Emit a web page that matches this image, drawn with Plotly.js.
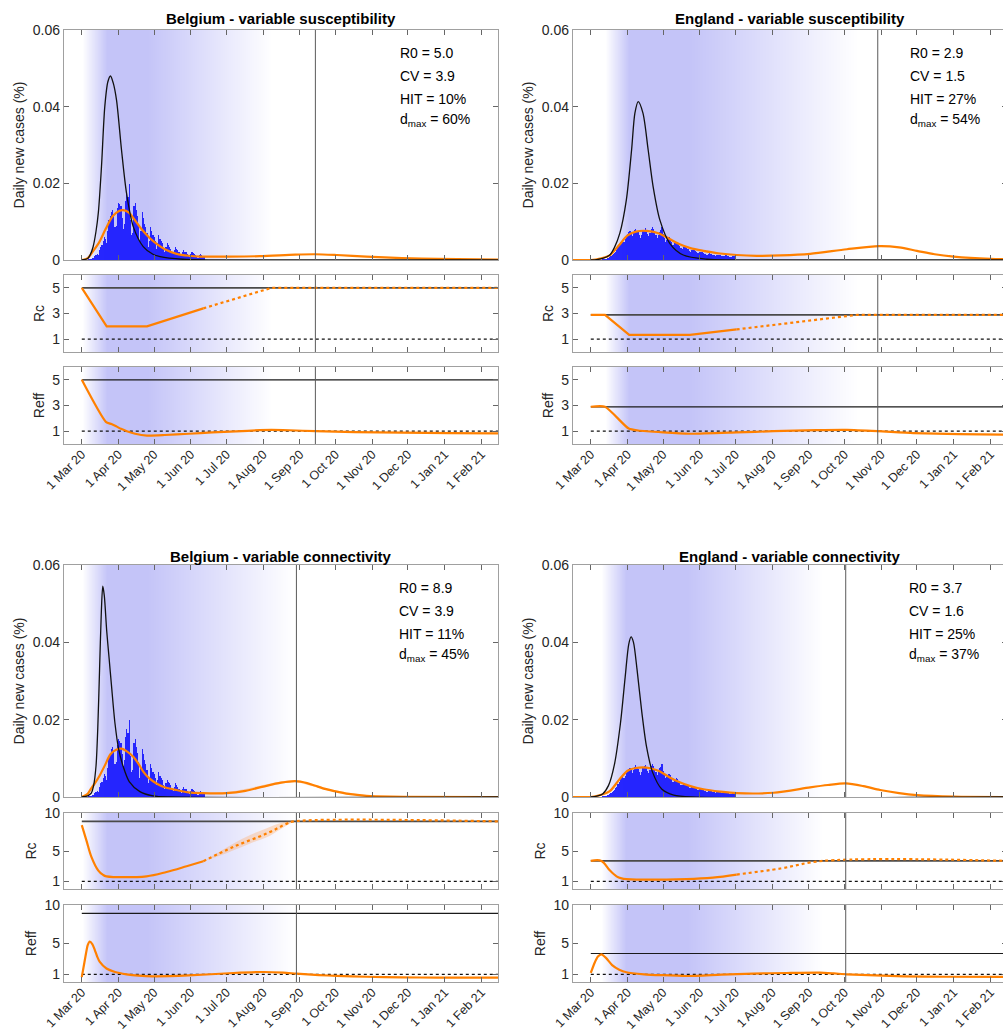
<!DOCTYPE html>
<html>
<head>
<meta charset="utf-8">
<script src="https://cdn.plot.ly/plotly-3.0.1.min.js"></script>
<style>
html,body{margin:0;padding:0;overflow:hidden;background:#fff;}
#chart{width:1008px;height:1035px;}
</style>
</head>
<body>
<div id="chart"></div>
<script>
// ---------------- DATA (x values are days since 1 Mar 2020) ----------------
const monthTickDates = ['2020-03-01','2020-04-01','2020-05-01','2020-06-01','2020-07-01','2020-08-01',
  '2020-09-01','2020-10-01','2020-11-01','2020-12-01','2021-01-01','2021-02-01'];
const monthTickLabels = ['1 Mar 20','1 Apr 20','1 May 20','1 Jun 20','1 Jul 20','1 Aug 20',
  '1 Sep 20','1 Oct 20','1 Nov 20','1 Dec 20','1 Jan 21','1 Feb 21'];

const casesTicks = [0, 0.02, 0.04, 0.06];
const casesTickLabels = ['0', '0.02', '0.04', '0.06'];
const rTicksSmall = [1, 3, 5];
const rTicksLarge = [1, 5, 10];

// Observed daily new cases (%), daily from 1 Mar 2020
const belgiumCases = [
  0, 0, 0.00005, 0.00005, 0.0001, 0.0001, 0.0002, 0.0002, 0.0003, 0.0005,
  0.0006, 0.001, 0.0013, 0.0015, 0.0012, 0.0025, 0.0035,
  0.004, 0.005, 0.006, 0.0055, 0.0045, 0.0075, 0.0105,
  0.0115, 0.0125, 0.013, 0.012, 0.0085, 0.009, 0.0135,
  0.015, 0.0145, 0.014, 0.011, 0.008, 0.0095, 0.0155,
  0.0175, 0.0165, 0.0198, 0.0105, 0.0065, 0.007, 0.014,
  0.015, 0.013, 0.0115, 0.009, 0.005, 0.0075, 0.0125,
  0.011, 0.0095, 0.0085, 0.007, 0.0035, 0.005, 0.0085,
  0.0075, 0.0065, 0.006, 0.005, 0.003, 0.0045, 0.0065,
  0.0055, 0.005, 0.0045, 0.003, 0.002, 0.0035, 0.0045,
  0.004, 0.0035, 0.003, 0.002, 0.0015, 0.0025, 0.0035,
  0.003, 0.0025, 0.002, 0.0015, 0.001, 0.002, 0.0025,
  0.002, 0.002, 0.0015, 0.001, 0.0008, 0.0015, 0.002,
  0.0018, 0.0015, 0.0012, 0.0008, 0.0006, 0.0012, 0.0015, 0.0013, 0.001, 0.0009
];
const englandCases = [
  0, 0, 0, 0, 0, 0.00002, 0.00003,
  0.00005, 0.00008, 0.0001, 0.00015, 0.0002, 0.0003, 0.00035,
  0.0004, 0.0006, 0.0008, 0.001, 0.0013, 0.0016, 0.0018,
  0.0022, 0.0026, 0.0034, 0.004, 0.0046, 0.005, 0.0052,
  0.0048, 0.0055, 0.0062, 0.0068, 0.0072, 0.0075, 0.007,
  0.0062, 0.007, 0.0078, 0.0082, 0.0076, 0.0073, 0.0064,
  0.0058, 0.0064, 0.0075, 0.0079, 0.0083, 0.0076, 0.0068,
  0.0062, 0.007, 0.008, 0.0085, 0.008, 0.0072, 0.0064,
  0.0058, 0.0065, 0.0074, 0.0078, 0.0086, 0.0068, 0.0058,
  0.0048, 0.0052, 0.0058, 0.006, 0.0056, 0.0048, 0.004,
  0.0038, 0.0044, 0.0048, 0.0046, 0.0042, 0.0036, 0.0032,
  0.003, 0.0034, 0.0036, 0.0034, 0.0031, 0.0028, 0.0024,
  0.0022, 0.0025, 0.0027, 0.0026, 0.0024, 0.0021, 0.0019,
  0.0018, 0.002, 0.0021, 0.002, 0.0018, 0.0016, 0.0015,
  0.0014, 0.0016, 0.0017, 0.0016, 0.0015, 0.0013, 0.0012,
  0.0011, 0.0013, 0.0014, 0.0013, 0.0012, 0.0011, 0.001,
  0.001, 0.0011, 0.0012, 0.0011, 0.001, 0.0009, 0.0009,
  0.0009, 0.001, 0.001, 0.0009
];

// Model curves [day, value]
const blSusBlack = [[0,0],[5,0.0004],[7,0.0013],[9.5,0.0034],[12,0.0075],[14,0.0125],[16.6,0.0243],[19.4,0.040],[22,0.0465],[24.2,0.048],[26.5,0.0462],[29.3,0.0417],[33.5,0.0287],[37.7,0.0175],[43.4,0.0087],[51.8,0.0035],[60,0.0015],[66,0.0009],[85,0.0002],[110,0],[351,0]];
const blSusOrange = [[0,0],[5,0.0005],[10,0.0025],[15,0.0048],[20,0.008],[26,0.0114],[31,0.0127],[35,0.013],[40,0.0123],[45,0.0103],[50,0.0082],[57,0.0058],[64,0.004],[70,0.0028],[80,0.0016],[90,0.0011],[100,0.0009],[120,0.0009],[150,0.001],[180,0.0014],[197,0.0015],[215,0.0013],[240,0.0009],[270,0.0005],[300,0.0003],[351,0.0001]];
const enSusBlack = [[0,0],[5,0.0001],[10,0.0004],[16,0.0013],[20,0.0033],[24.5,0.007],[30,0.0157],[34.4,0.0287],[37.2,0.0383],[40,0.0413],[44,0.0383],[48.4,0.0287],[52.6,0.0191],[58.3,0.0104],[66.7,0.0043],[78,0.0013],[98,0.0002],[120,0],[351,0]];
const enSusOrange = [[-15,0],[0,0],[8,0.0004],[16,0.0012],[24,0.0039],[31,0.0064],[38,0.0074],[47,0.0076],[57,0.007],[67,0.0054],[75,0.0041],[84,0.0031],[95,0.0024],[109,0.0017],[123,0.0013],[140,0.0011],[160,0.0012],[185,0.0016],[216,0.0028],[243,0.0036],[260,0.0033],[275,0.0024],[290,0.0015],[306,0.0009],[337,0.0003],[351,0.0002]];
const blConBlack = [[0,0],[5,0.0003],[8,0.001],[10,0.003],[12,0.008],[13.5,0.018],[15,0.033],[16.5,0.048],[17.7,0.0545],[19,0.052],[21,0.043],[23,0.036],[25,0.029],[28,0.019],[31,0.0125],[35,0.0078],[40,0.004],[49,0.0014],[60,0.0003],[75,0],[351,0]];
const blConOrange = [[0,0],[5,0.0008],[7,0.0018],[11,0.0035],[15,0.0055],[20,0.0085],[24,0.011],[29,0.0122],[33.5,0.0125],[38,0.0118],[43.4,0.0104],[48,0.0085],[52,0.0065],[57,0.0048],[63,0.0035],[70,0.0025],[80,0.0018],[90,0.0012],[102,0.001],[122,0.001],[138,0.0016],[153,0.0027],[168,0.0037],[180,0.0041],[190,0.0036],[197,0.0029],[205,0.0021],[212,0.0016],[225,0.0008],[240,0.0003],[260,0.0001],[351,0]];
const blConOrangeBandLow = [[110,0.001],[130,0.0011],[150,0.0023],[168,0.0034],[180,0.0038],[195,0.0027],[212,0.0013],[240,0.0002],[270,0]];
const blConOrangeBandHigh = [[110,0.001],[130,0.0016],[150,0.0029],[168,0.004],[180,0.0044],[195,0.0033],[212,0.0019],[240,0.0005],[270,0.0001]];
const enConBlack = [[0,0],[5,0.0002],[10,0.0008],[15,0.003],[20,0.0085],[25,0.019],[29,0.031],[32,0.0395],[34,0.0414],[36,0.040],[39,0.033],[43,0.022],[47,0.013],[52,0.0065],[60,0.002],[70,0.0005],[85,0],[351,0]];
const enConOrange = [[-15,0],[0,0],[8,0.0005],[16,0.0015],[24,0.0045],[31,0.0068],[38,0.0075],[47,0.0076],[57,0.0068],[67,0.005],[75,0.0038],[84,0.0028],[95,0.002],[109,0.0014],[123,0.001],[154,0.0011],[185,0.0025],[200,0.0031],[215,0.0035],[230,0.0028],[244,0.0018],[260,0.001],[275,0.0005],[306,0.0001],[351,0]];

// Rc (solid = fitted, dotted = projected) and Reff [day, value]
const blSusRc = [[0,5],[21,2],[55,2],[102.5,3.4]];
const blSusRcProj = [[102.5,3.4],[160,5],[351,5]];
const blSusReff = [[0,5],[20.3,1.73],[25,1.55],[29,1.38],[33,1.18],[38,1.0],[45,0.8],[55,0.66],[70,0.7],[90,0.8],[110,0.9],[130,0.98],[150,1.08],[160,1.1],[175,1.07],[197,1.0],[230,0.93],[270,0.88],[310,0.85],[351,0.83]];
const enSusRc = [[0,2.9],[12,2.9],[32.4,1.33],[83.6,1.33],[123,1.76]];
const enSusRcProj = [[123,1.76],[225,2.9],[351,2.9]];
const enSusReff = [[0,2.9],[12,2.9],[32,1.2],[40,1.05],[61,0.9],[84,0.8],[123,0.9],[154,1.0],[190,1.08],[216,1.1],[242,1.0],[272,0.85],[310,0.77],[351,0.72]];
const blConRc = [[0,8.4],[3.9,6.4],[8.2,4.2],[13.8,2.46],[18,1.85],[20.8,1.67],[54.6,1.67],[71.5,2.24],[88.4,3.0],[102.5,3.66]];
const blConRcProj = [[102.5,3.66],[128,5.55],[156,7.3],[173,8.6],[179,8.9],[351,8.9]];
const blConRcBandLow = [[102.5,3.66],[115,4.3],[128,5.1],[142,6.0],[156,6.8],[168,7.9],[179,8.9]];
const blConRcBandHigh = [[102.5,3.66],[115,4.8],[128,6.0],[142,7.1],[156,8.0],[168,8.7],[179,8.9]];
const blConReff = [[0,0.64],[2.5,2.8],[5,4.8],[6.7,5.25],[9,4.9],[11,4.15],[13,3.3],[15.2,2.6],[20.8,1.75],[28,1.3],[37.7,1.0],[48,0.82],[60,0.74],[90,0.85],[128,1.17],[153,1.3],[170,1.22],[181,1.09],[200,0.9],[215,0.8],[240,0.68],[270,0.6],[300,0.58],[351,0.57]];
const enConRc = [[0,3.7],[9,3.7],[16,2.46],[21.7,1.67],[26,1.4],[30,1.31],[80.8,1.31],[103,1.5],[123,1.9]];
const enConRcProj = [[123,1.9],[160,2.7],[196,3.7],[351,3.7]];
const enConReff = [[0,1.17],[3,2.4],[6,3.3],[9,3.6],[13,3.1],[18,2.2],[24,1.6],[30,1.26],[45,1.0],[60,0.88],[81,0.78],[110,0.95],[137,1.09],[165,1.17],[193,1.22],[205,1.12],[216,1.0],[240,0.85],[264,0.74],[300,0.68],[351,0.65]];

// Intervention strength d(t) for the background shading [day, d]
const blSusShade = [[-15,0],[0,0],[21,0.6],[55,0.6],[160,0],[351,0]];
const enSusShade = [[-15,0],[12,0],[32.4,0.54],[83.6,0.54],[225,0],[351,0]];
const blConShade = [[-15,0],[0,0],[21,0.45],[55,0.45],[179,0],[351,0]];
const enConShade = [[-15,0],[9,0],[30,0.37],[81,0.37],[196,0],[351,0]];

const panelTitles = ['Belgium - variable susceptibility','England - variable susceptibility',
  'Belgium - variable connectivity','England - variable connectivity'];
const r0Values = [5.0, 2.9, 8.9, 3.7];
const cvValues = [3.9, 1.5, 3.9, 1.6];
const hitValues = [10, 27, 11, 25];
const dmaxValues = [60, 54, 45, 37];
const vlineDays = [197, 242, 181, 215];
const rAxisMax = [6, 6, 10, 10];

// ---------------- BUILD ----------------
const BASE = Date.UTC(2020, 2, 1);
function toDate(d){ return new Date(BASE + Math.round(d*86400000)).toISOString().slice(0,19).replace('T',' '); }
const X0 = toDate(-15), X1 = toDate(351);
const W = 1008, H = 1035;
const fx = p => p / W;
const fy = p => 1 - p / H;

const ORANGE = 'rgb(255,128,0)';
const BAR = 'rgb(24,24,255)';

const panels = [
  {cases: belgiumCases, black: blSusBlack, orange: blSusOrange, rc: blSusRc, rcp: blSusRcProj, reff: blSusReff, shade: blSusShade},
  {cases: englandCases, black: enSusBlack, orange: enSusOrange, rc: enSusRc, rcp: enSusRcProj, reff: enSusReff, shade: enSusShade},
  {cases: belgiumCases, black: blConBlack, orange: blConOrange, rc: blConRc, rcp: blConRcProj, reff: blConReff, shade: blConShade,
   band: [blConOrangeBandLow, blConOrangeBandHigh], rcBand: [blConRcBandLow, blConRcBandHigh]},
  {cases: englandCases, black: enConBlack, orange: enConOrange, rc: enConRc, rcp: enConRcProj, reff: enConReff, shade: enConShade}
];

const colX = [[64, 498], [573, 1007]];
const rowY = [
  [[30,260],[275,352],[367,444]],
  [[565,797],[813,889],[905,982]]
];
const paramX = [398, 908];
const paramY = [[53,76,99,120],[588,611,634,655]];
const titleY = [19, 556];

const data = [];
const layout = {
  width: W, height: H,
  margin: {l:0, r:0, t:0, b:0},
  showlegend: false,
  paper_bgcolor: '#ffffff',
  plot_bgcolor: '#ffffff',
  font: {family: 'Liberation Sans, Arial, Helvetica, sans-serif', size: 14, color: '#262626'},
  bargap: 0,
  annotations: [],
  shapes: []
};

const xs = pts => pts.map(p => toDate(p[0]));
const ys = pts => pts.map(p => p[1]);

panels.forEach((P, pi) => {
  const col = pi % 2, row = Math.floor(pi / 2);
  const dmax = Math.max(...P.shade.map(p => p[1]));
  for (let s = 0; s < 3; s++) {
    const idx = pi*3 + s + 1;
    const xa = 'x' + idx, ya = 'y' + idx;
    const [t, b] = rowY[row][s];
    const isMain = s === 0;
    const ymax = isMain ? 0.06 : rAxisMax[pi];
    const rt = rAxisMax[pi] === 6 ? rTicksSmall : rTicksLarge;
    const xax = {
      type: 'date', domain: [fx(colX[col][0]), fx(colX[col][1])], anchor: ya,
      range: [X0, X1], tickmode: 'array', tickvals: monthTickDates,
      ticks: 'inside', ticklen: 5, tickcolor: '#666',
      showline: true, mirror: 'ticks', linecolor: '#a0a0a0', linewidth: 1.2,
      showgrid: false, zeroline: false, fixedrange: true
    };
    if (s === 2) {
      xax.ticktext = monthTickLabels;
      xax.showticklabels = true;
      xax.tickangle = -45;
      xax.ticklabelstandoff = -3;
      xax.tickfont = {size: 12.5, color: '#262626'};
    } else {
      xax.showticklabels = false;
    }
    layout['xaxis' + idx] = xax;
    layout['yaxis' + idx] = {
      domain: [fy(b), fy(t)], anchor: xa, range: [0, ymax],
      tickmode: 'array',
      tickvals: isMain ? casesTicks : rt,
      ticktext: isMain ? casesTickLabels : rt.map(String),
      ticks: 'inside', ticklen: 5, tickcolor: '#666',
      showline: true, mirror: 'ticks', linecolor: '#a0a0a0', linewidth: 1.2,
      showgrid: false, zeroline: false, fixedrange: true,
      tickfont: {size: 14, color: '#262626'},
      title: {text: isMain ? 'Daily new cases (%)' : (s === 1 ? 'Rc' : 'Reff'), font: {size: 14, color: '#262626'}, standoff: 4}
    };
    // background shading
    const sz = P.shade.map(p => p[1]);
    data.push({type: 'heatmap', xaxis: xa, yaxis: ya, x: xs(P.shade), y: [-1, 100], z: [sz, sz],
      zmin: 0, zmax: dmax, zsmooth: 'best', showscale: false, hoverinfo: 'skip',
      colorscale: [[0, 'rgb(255,255,255)'], [1, 'rgb(196,196,248)']]});
    // vertical marker line
    layout.shapes.push({type: 'line', xref: xa, yref: ya + ' domain', x0: toDate(vlineDays[pi]), x1: toDate(vlineDays[pi]),
      y0: 0, y1: 1, line: {color: '#5a5a5a', width: 1}, layer: 'above'});

    if (isMain) {
      if (P.band) {
        data.push({type:'scatter', mode:'lines', xaxis:xa, yaxis:ya, x: xs(P.band[0]), y: ys(P.band[0]), line:{width:0, shape:'spline'}, hoverinfo:'skip'});
        data.push({type:'scatter', mode:'lines', xaxis:xa, yaxis:ya, x: xs(P.band[1]), y: ys(P.band[1]), line:{width:0, shape:'spline'}, fill:'tonexty', fillcolor:'rgba(255,160,80,0.35)', hoverinfo:'skip'});
      }
      data.push({type:'scatter', mode:'lines', xaxis:xa, yaxis:ya, x: xs(P.orange), y: ys(P.orange), line:{color: ORANGE, width: 2.2, shape:'spline', smoothing: 0.8}});
      data.push({type:'bar', xaxis:xa, yaxis:ya, x: P.cases.map((v,i) => toDate(i)), y: P.cases,
        width: 86400000, marker:{color: BAR, line:{width:0}}, opacity: 0.92});
      data.push({type:'scatter', mode:'lines', xaxis:xa, yaxis:ya, x: xs(P.black), y: ys(P.black), line:{color:'#111', width: 1.3, shape:'spline', smoothing: 0.8}});
    } else {
      const r0 = r0Values[pi];
      data.push({type:'scatter', mode:'lines', xaxis:xa, yaxis:ya, x:[toDate(0), toDate(351)], y:[r0, r0],
        line:{color: s===1 ? '#4a4a4a' : '#1a1a1a', width: s===1 ? 1.8 : 1.2}});
      data.push({type:'scatter', mode:'lines', xaxis:xa, yaxis:ya, x:[toDate(0), toDate(351)], y:[1, 1],
        line:{color:'#111', width: 1.2, dash:'dot'}});
      if (s === 1) {
        if (P.rcBand) {
          data.push({type:'scatter', mode:'lines', xaxis:xa, yaxis:ya, x: xs(P.rcBand[0]), y: ys(P.rcBand[0]), line:{width:0, shape:'spline'}, hoverinfo:'skip'});
          data.push({type:'scatter', mode:'lines', xaxis:xa, yaxis:ya, x: xs(P.rcBand[1]), y: ys(P.rcBand[1]), line:{width:0, shape:'spline'}, fill:'tonexty', fillcolor:'rgba(255,170,100,0.35)', hoverinfo:'skip'});
        }
        data.push({type:'scatter', mode:'lines', xaxis:xa, yaxis:ya, x: xs(P.rc), y: ys(P.rc), line:{color: ORANGE, width: 2.2, shape: pi>=2 ? 'spline' : 'linear'}});
        data.push({type:'scatter', mode:'lines', xaxis:xa, yaxis:ya, x: xs(P.rcp), y: ys(P.rcp), line:{color: ORANGE, width: 2.2, dash:'dot', shape: pi>=2 ? 'spline' : 'linear'}});
      } else {
        data.push({type:'scatter', mode:'lines', xaxis:xa, yaxis:ya, x: xs(P.reff), y: ys(P.reff), line:{color: ORANGE, width: 2.2, shape:'spline', smoothing: 0.6}});
      }
    }
  }
  // title
  const cx = (colX[col][0] + colX[col][1]) / 2;
  layout.annotations.push({xref:'paper', yref:'paper', x: fx(cx), y: fy(titleY[row]), xanchor:'center', yanchor:'middle',
    text: '<b>' + panelTitles[pi] + '</b>', showarrow:false, font:{size: 15, color:'#000'}});
  // parameter text
  const lines = ['R0 = ' + r0Values[pi].toFixed(1), 'CV = ' + cvValues[pi].toFixed(1), 'HIT = ' + hitValues[pi] + '%',
    'd<sub>max</sub> = ' + dmaxValues[pi] + '%'];
  lines.forEach((txt, li) => {
    layout.annotations.push({xref:'paper', yref:'paper', x: fx(paramX[col] - (row===1 ? 1 : 0)), y: fy(paramY[row][li]),
      xanchor:'left', yanchor:'middle', text: txt, showarrow:false, font:{size: 14, color:'#000'}});
  });
});

Plotly.newPlot('chart', data, layout, {staticPlot: true, displayModeBar: false});
</script>
</body>
</html>
